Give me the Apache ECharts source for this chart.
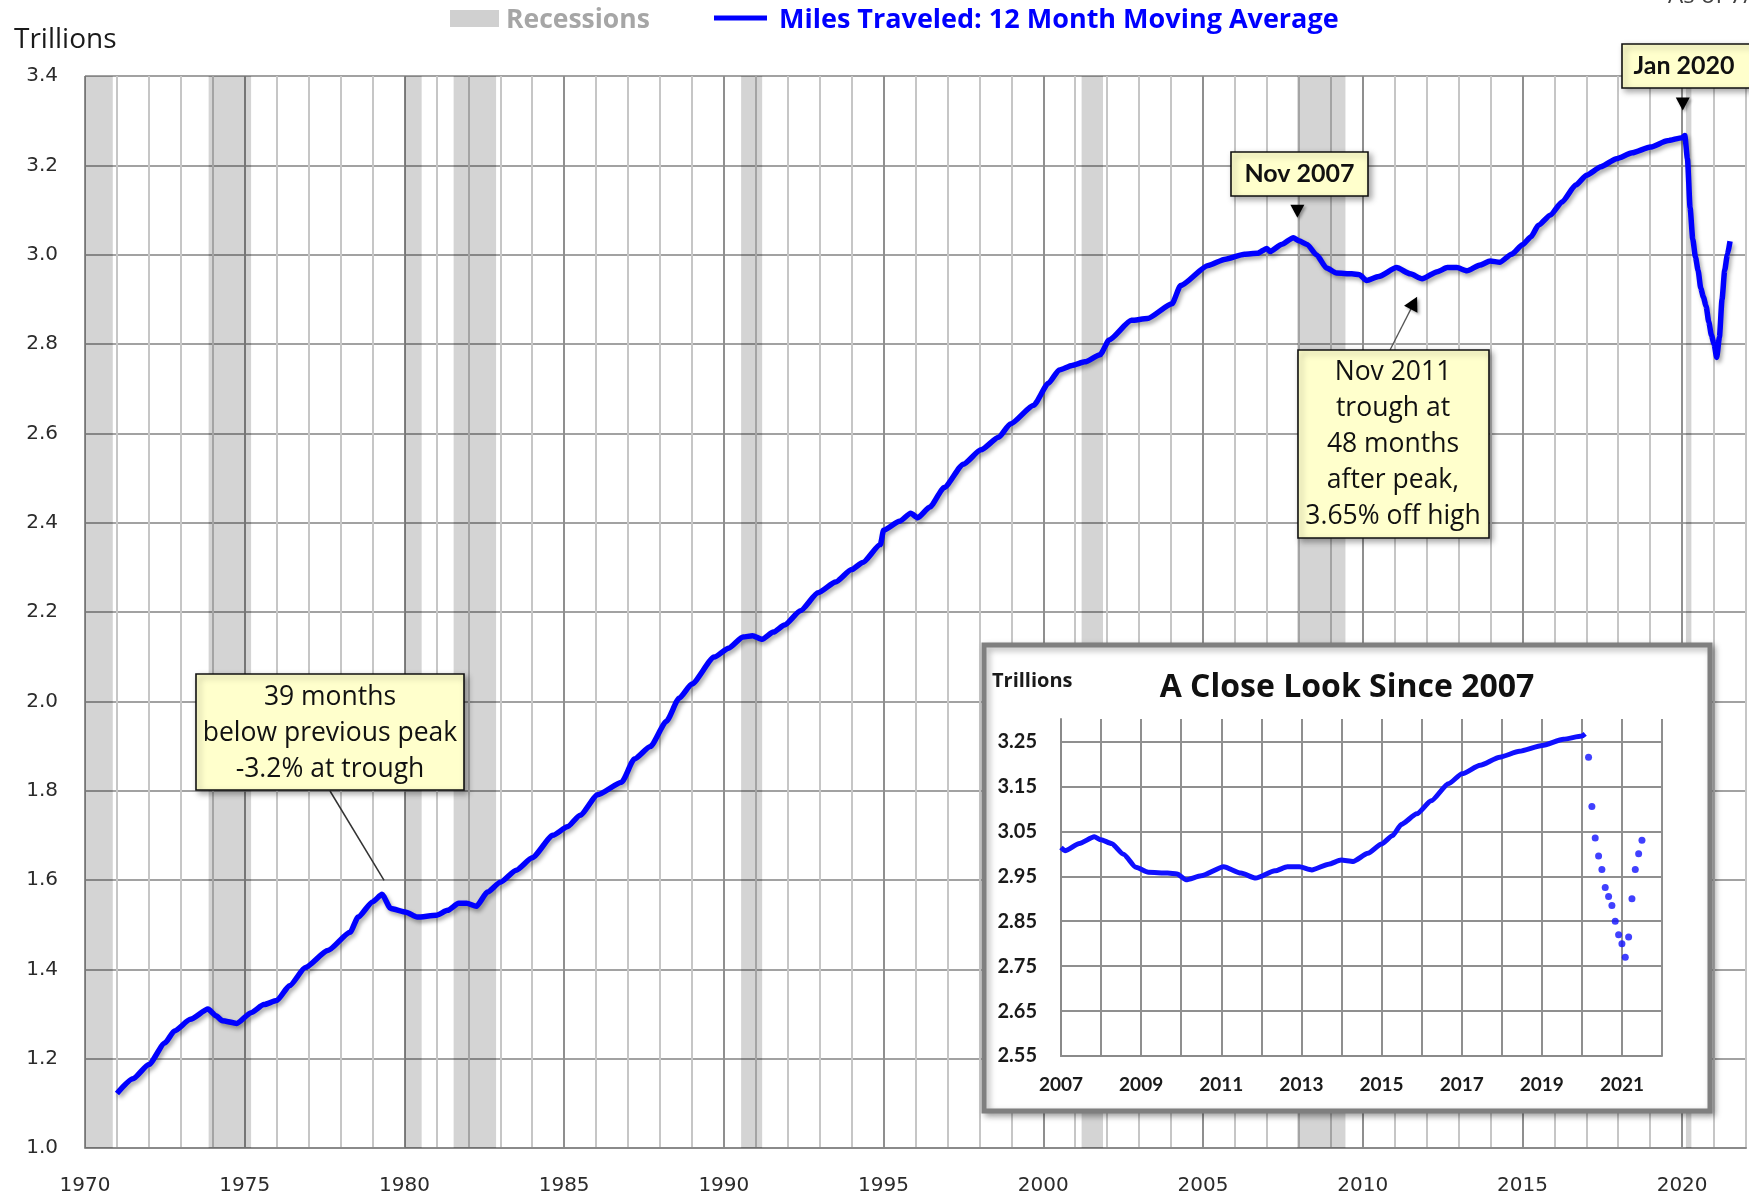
<!DOCTYPE html>
<html><head><meta charset="utf-8">
<script src="https://cdn.jsdelivr.net/npm/echarts@6/dist/echarts.min.js"></script>
<style>html,body{margin:0;padding:0;background:#fff}#c{width:1749px;height:1199px}</style>
</head><body><div id="c"></div>
<script>
// ---- data ----
const mainYears = [
1971.0,1971.5,1972.0,1972.5,1972.8,1973.3,1973.85,1974.1,1974.3,1974.75,
1975.2,1975.6,1976.0,1976.4,1976.9,1977.6,1978.3,1978.55,1979.0,1979.3,
1979.57,1980.05,1980.4,1981.0,1981.35,1981.7,1981.95,1982.25,1982.6,1983.0,
1983.5,1984.0,1984.65,1985.1,1985.5,1986.05,1986.8,1987.2,1987.7,1988.2,
1988.6,1989.0,1989.7,1990.15,1990.6,1990.9,1991.2,1991.55,1991.9,1992.4,
1992.95,1993.5,1994.0,1994.35,1994.9,1995.0,1995.5,1995.85,1996.07,1996.45,
1996.9,1997.5,1998.05,1998.6,1998.97,1999.7,2000.16,2000.5,2000.9,2001.3,
2001.78,2002.06,2002.76,2003.26,2004.03,2004.3,2005.16,2005.7,2006.3,2006.7,
2007.0,2007.1,2007.46,2007.83,2008.0,2008.26,2008.56,2008.87,2009.18,2009.66,
2009.9,2010.12,2010.5,2011.06,2011.49,2011.86,2012.34,2012.65,2012.95,2013.26,
2013.68,2013.99,2014.29,2014.66,2015.0,2015.27,2015.5,2015.88,2016.24,2016.67,
2017.01,2017.46,2017.95,2018.44,2019.01,2019.54,2020.0,
2020.083,2020.167,2020.25,2020.333,2020.417,2020.5,2020.583,2020.667,2020.75,
2020.833,2020.917,2021.0,2021.083,2021.167,2021.25,2021.333,2021.417,2021.5];
const mainValues = [
1.122,1.155,1.187,1.235,1.262,1.288,1.311,1.296,1.285,1.279,
1.303,1.321,1.330,1.363,1.404,1.442,1.483,1.517,1.551,1.568,
1.536,1.528,1.517,1.521,1.532,1.548,1.548,1.541,1.573,1.595,
1.622,1.650,1.700,1.719,1.745,1.791,1.819,1.871,1.899,1.955,
2.007,2.039,2.099,2.119,2.144,2.147,2.139,2.155,2.171,2.203,
2.243,2.267,2.295,2.311,2.351,2.383,2.403,2.421,2.411,2.435,
2.479,2.531,2.563,2.591,2.621,2.663,2.712,2.742,2.752,2.760,
2.776,2.809,2.853,2.857,2.890,2.931,2.976,2.990,3.001,3.003,
3.014,3.007,3.023,3.038,3.031,3.023,2.999,2.970,2.959,2.957,
2.955,2.942,2.951,2.971,2.957,2.946,2.962,2.971,2.971,2.964,
2.977,2.986,2.983,3.001,3.022,3.040,3.066,3.089,3.118,3.156,
3.178,3.197,3.215,3.228,3.241,3.255,3.262,
3.267,3.215,3.105,3.035,2.995,2.965,2.925,2.905,2.885,
2.850,2.820,2.800,2.770,2.815,2.900,2.965,3.000,3.030];
const recessionStarts = [1970.0, 1973.87, 1980.0, 1981.54, 1990.54, 2001.2, 2007.95, 2020.12];
const recessionEnds   = [1970.87, 1975.2, 1980.54, 1982.87, 1991.2, 2001.87, 2009.46, 2020.29];
const mainXLabels = [1970,1975,1980,1985,1990,1995,2000,2005,2010,2015,2020];
const insetXLabels = [2007,2009,2011,2013,2015,2017,2019,2021];
const insetStart = 2007;

// ---- derived ----
const mainData = mainYears.map((y,i)=>[y, mainValues[i]]);
const peakIdx = mainValues.indexOf(Math.max(...mainValues));
const insetLine = mainData.filter((d,i)=> d[0] >= insetStart && i <= peakIdx);
const insetDots = mainData.filter((d,i)=> i > peakIdx);
function argExt(lo, hi, wantMax){
  let best=-1;
  mainYears.forEach((y,i)=>{ if(y>=lo && y<=hi){ if(best<0 || (wantMax ? mainValues[i]>mainValues[best] : mainValues[i]<mainValues[best])) best=i; }});
  return best;
}
const bands = recessionStarts.map((s,i)=>[{xAxis:s},{xAxis:recessionEnds[i]}]);

const chart = echarts.init(document.getElementById('c'), null, {renderer:'canvas'});
const lab = {fontFamily:'DejaVu Sans', fontSize:20, color:'#2b2b2b'};
const insetLab = {fontFamily:'Lato', fontWeight:'bold', color:'#1a1a1a'};

const option = {
  animation:false,
  backgroundColor:'#fff',
  grid:[
    {left:85, top:76, right:1, bottom:51},
    {left:1061, top:719, right:87, bottom:143}
  ],
  xAxis:[
    {type:'value', gridIndex:0, min:1970, max:2022, interval:1, z:0,
     axisLine:{show:true, onZero:false, lineStyle:{color:'#8a8a8a', width:2}},
     axisTick:{show:false},
     axisLabel:Object.assign({margin:28, formatter:v=> mainXLabels.includes(Math.round(v)) ? String(Math.round(v)) : ''}, lab),
     splitLine:{show:true, lineStyle:{color:['#8f8f8f','#c6c6c6','#c6c6c6','#c6c6c6','#c6c6c6'], width:2}}},
    {type:'value', gridIndex:1, min:2007, max:2022, interval:1, z:11,
     axisLine:{show:true, onZero:false, lineStyle:{color:'#8a8a8a', width:2}},
     axisTick:{show:false},
     axisLabel:Object.assign({margin:19, fontSize:19, formatter:v=> insetXLabels.includes(Math.round(v)) ? String(Math.round(v)) : ''}, insetLab),
     splitLine:{show:true, lineStyle:{color:'#8f8f8f', width:2}}}
  ],
  yAxis:[
    {type:'value', gridIndex:0, min:1.0, max:3.4, interval:0.2, z:0,
     axisLine:{show:false}, axisTick:{show:false},
     axisLabel:Object.assign({margin:27, formatter:v=>v.toFixed(1)}, lab),
     splitLine:{show:true, lineStyle:{color:'#a2a2a2', width:2}}},
    {type:'value', gridIndex:1, min:2.55, max:3.30, interval:0.1, z:11,
     axisLine:{show:true, lineStyle:{color:'#8a8a8a', width:2}}, axisTick:{show:false},
     axisLabel:Object.assign({margin:24, fontSize:20, showMaxLabel:false, formatter:v=>v.toFixed(2)}, insetLab),
     splitLine:{show:true, showMaxLine:false, lineStyle:{color:'#8f8f8f', width:2}}}
  ],
  series:[
    {name:'Recessions', type:'line', xAxisIndex:0, yAxisIndex:0, data:[], z:1, silent:true,
     markArea:{silent:true, itemStyle:{color:'rgba(0,0,0,0.17)'}, data:bands}},
    {name:'Miles Traveled: 12 Month Moving Average', type:'line', xAxisIndex:0, yAxisIndex:0,
     data:mainData, showSymbol:false, smooth:0.2, smoothMonotone:'x', z:3,
     lineStyle:{color:'#0000ff', width:5.5, shadowColor:'rgba(0,0,0,0.35)', shadowBlur:4, shadowOffsetX:2, shadowOffsetY:3}},
    {name:'insetRec', type:'line', xAxisIndex:1, yAxisIndex:1, data:[], z:11, silent:true,
     markArea:{silent:true, itemStyle:{color:'rgba(0,0,0,0.18)'},
       data:bands.filter(b=>b[0].xAxis>=insetStart-0.5)}},
    {name:'insetLine', type:'line', xAxisIndex:1, yAxisIndex:1, data:insetLine, z:12,
     showSymbol:false, smooth:0.2, smoothMonotone:'x', lineStyle:{color:'#1010ff', width:5}},
    {name:'insetDots', type:'scatter', xAxisIndex:1, yAxisIndex:1, data:insetDots, z:12,
     symbol:'circle', symbolSize:7, itemStyle:{color:'#1010ff'}}
  ]
};
chart.setOption(option);

// ---- annotations (positions tied to the data through the axes) ----
const px = (x,y,g)=>chart.convertToPixel({gridIndex:g||0},[x,y]);
const i79 = argExt(1978, 1981, true), i07 = argExt(2006, 2009, true), i11 = argExt(2011.5, 2012.5, false);
const p79 = px(mainYears[i79], mainValues[i79]);
const p07 = px(mainYears[i07], mainValues[i07]);
const p20 = px(mainYears[peakIdx], mainValues[peakIdx]);
const p11 = px(mainYears[i11], mainValues[i11]);

const boxStyle = {fill:'#ffffcc', stroke:'#111', lineWidth:1.6, shadowBlur:6, shadowOffsetX:3, shadowOffsetY:3, shadowColor:'rgba(0,0,0,0.35)'};
function box(x,y,w,h){ return {type:'rect', z:30, shape:{x,y,width:w,height:h}, style:Object.assign({},boxStyle)}; }
function txt(t,x,y,font,fill,align,z){ return {type:'text', z:z||31, style:{text:t, x, y, font, fill:fill||'#111', align:align||'center', verticalAlign:'middle', lineHeight:36}}; }
function tri(tip, from, len, half){
  const dx=tip[0]-from[0], dy=tip[1]-from[1], L=Math.hypot(dx,dy), ux=dx/L, uy=dy/L;
  const cx=tip[0]-ux*len, cy=tip[1]-uy*len, nx=-uy, ny=ux;
  return {type:'polygon', z:31, shape:{points:[[tip[0],tip[1]],[cx+nx*half,cy+ny*half],[cx-nx*half,cy-ny*half]]},
          style:{fill:'#000', shadowBlur:3, shadowOffsetX:2, shadowOffsetY:2, shadowColor:'rgba(0,0,0,0.35)'}};
}
const t79 = [p79[0]+2, p79[1]-14];
const t07 = [p07[0]+4, p07[1]-20];
const t20 = [p20[0]-2, p20[1]-25];
const t11 = [p11[0]-5, p11[1]+18];
const b11 = [1390, 350];
const u11 = (()=>{const dx=t11[0]-b11[0], dy=t11[1]-b11[1], L=Math.hypot(dx,dy); return [dx/L,dy/L];})();

const graphics = [
  // legend
  {type:'rect', z:40, shape:{x:450,y:10,width:49,height:17}, style:{fill:'#d0d0d0'}},
  txt('Recessions', 506, 20, 'bold 26.5px "Open Sans"', '#a6a6a6', 'left', 40),
  {type:'line', z:40, shape:{x1:714,y1:18,x2:767,y2:18}, style:{stroke:'#0000ff', lineWidth:5}},
  txt('Miles Traveled: 12 Month Moving Average', 779, 20, 'bold 27px "Open Sans"', '#0000ff', 'left', 40),
  txt('As of 7/2021', 1668, -4, '24px "Open Sans"', '#404040', 'left', 40),
  // axis title
  txt('Trillions', 14, 40, '28px "Open Sans"', '#1a1a1a', 'left', 40),
  // 1979 callout
  {type:'line', z:29, shape:{x1:330,y1:791,x2:t79[0],y2:t79[1]}, style:{stroke:'#333', lineWidth:1.5}},
  box(196,674,268,116),
  txt('39 months\nbelow previous peak\n-3.2% at trough', 330, 733, '26.5px "Open Sans"'),
  // Nov 2007
  box(1231,152,137,44),
  txt('Nov 2007', 1299.5, 174, 'bold 25px Lato'),
  tri(t07, [t07[0], t07[1]-20], 13, 7),
  // Jan 2020
  box(1622,44,132,44),
  txt('Jan 2020', 1684, 66, 'bold 25px Lato'),
  tri(t20, [t20[0], t20[1]-20], 13, 7),
  // Nov 2011
  {type:'line', z:29, shape:{x1:b11[0],y1:b11[1],x2:t11[0]-u11[0]*13,y2:t11[1]-u11[1]*13}, style:{stroke:'#555', lineWidth:1.3}},
  tri(t11, b11, 14, 7.5),
  box(1298,350,191,188),
  txt('Nov 2011\ntrough at\n48 months\nafter peak,\n3.65% off high', 1393, 444, '26.5px "Open Sans"'),
  // inset panel
  {type:'rect', z:10, shape:{x:984,y:645,width:726,height:466},
   style:{fill:'#fff', stroke:'#7f7f7f', lineWidth:5, shadowBlur:6, shadowOffsetX:3, shadowOffsetY:3, shadowColor:'rgba(0,0,0,0.3)'}},
  txt('Trillions', 992, 681, 'bold 20px "Open Sans"', '#1a1a1a', 'left', 13),
  txt('A Close Look Since 2007', 1347, 688, 'bold 32px "Open Sans"', '#111', 'center', 13)
];
chart.setOption({graphic:{elements:graphics}});
</script>
</body></html>
